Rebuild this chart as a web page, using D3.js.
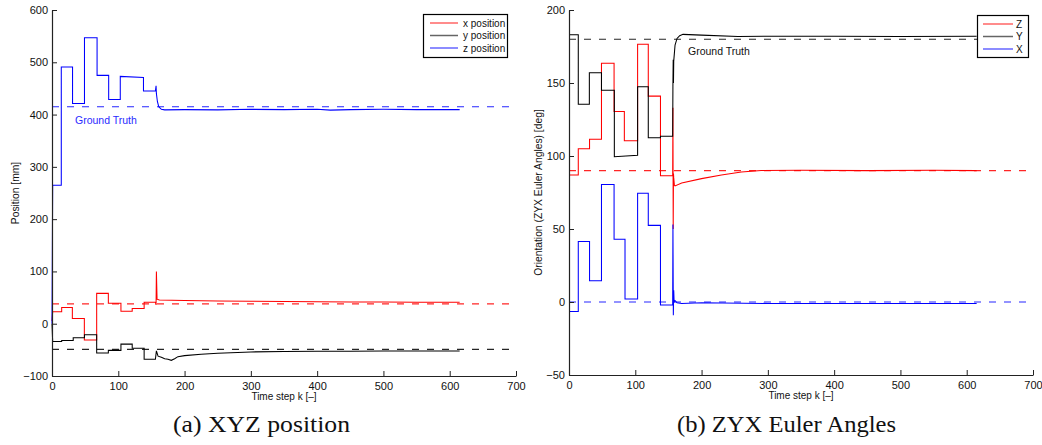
<!DOCTYPE html>
<html>
<head>
<meta charset="utf-8">
<script src="https://cdn.jsdelivr.net/npm/d3@7"></script>
<style>
  html, body { margin: 0; padding: 0; background: #fff; }
  svg { display: block; }
  .sans { font-family: "Liberation Sans", Arial, Helvetica, sans-serif; }
  .serif { font-family: "Liberation Serif", "DejaVu Serif", serif; }
</style>
</head>
<body>
<svg id="chart" width="1042" height="445"></svg>
<script>
// ---------- DATA ----------
const xTicks = [0, 100, 200, 300, 400, 500, 600, 700];
const posTicks = [-100, 0, 100, 200, 300, 400, 500, 600];
const angTicks = [-50, 0, 50, 100, 150, 200];

// (a) XYZ position : [time step k, value mm]
const xPosition = [[0,5],[1,23],[14.6,23],[14.6,31],[30.7,31],[30.7,10],[48.8,10],[48.8,-31],[67.4,-31],[67.4,58],[85,58],[85,39],[104,39],[104,24],[121,24],[121,29],[139,29],[139,41],[156,41],[157,36],[157.5,100],[158.5,47],[162,45.5],[200,44.5],[250,43.5],[300,43],[350,42.5],[400,42],[450,41.5],[500,41.5],[550,41],[615,41]];
const yPosition = [[0,0],[1,-34],[14.6,-34],[14.6,-32],[32,-32],[32,-27],[49,-27],[49,-21],[67.4,-21],[67.4,-56],[85,-56],[85,-51],[104,-51],[104,-39],[121,-39],[121,-47],[139,-47],[139,-68],[156,-68],[157.5,-52],[160,-62],[165,-64],[170,-67],[175,-68],[180,-70],[185,-67],[190,-63],[200,-61],[225,-58.5],[250,-56.5],[300,-54],[350,-53],[400,-52.5],[450,-52.5],[500,-52],[550,-52],[615,-52]];
const zPosition = [[0,0],[1,265],[14,265],[14,491],[31,491],[31,421],[49,421],[49,547],[68,547],[68,475],[85.5,475],[85.5,429],[103,429],[103,473],[138,471],[138,445],[156,445],[157,455],[157.5,440],[159,425],[161,415],[165,410],[170,409],[200,409.5],[250,409],[300,410],[350,409.5],[400,410],[420,408.5],[450,409.5],[500,410],[550,409.5],[615,409.5]];
const posTruth = { x: 38, y: -49, z: 415 };

// (b) ZYX Euler angles : [time step k, value deg]
const zAngle = [[0,87],[14,87],[14,105],[31,105],[31,111.5],[49,111.5],[49,163.5],[68,163.5],[68,130.5],[83.5,130.5],[83.5,110.5],[103.5,110.5],[103.5,176.5],[119.6,176.5],[119.6,141],[138,141],[138,86.5],[156.4,86.5],[156.8,133],[157.2,50],[157.6,88],[158,85],[159,80],[160,79.5],[170,81.5],[200,84.5],[230,87],[260,89],[290,90],[350,90.3],[450,90],[550,90.2],[615,90]];
const yAngle = [[0,183],[14,183],[14,135.5],[30.7,135.5],[30.7,157],[49,157],[49,145],[68.4,145],[68.4,99.5],[103.5,100.5],[103.5,147.5],[119.6,147.5],[119.6,112.5],[138,112.5],[138,113.5],[156.4,113.5],[156.8,150],[157.2,166],[157.6,150],[158,165],[160,176],[163,180.5],[167,182.4],[172,183.3],[200,182.8],[255,181.8],[300,182],[400,182],[500,181.8],[615,182]];
const xAngle = [[0,-6.5],[14,-6.5],[14,41.5],[31,41.5],[31,14.5],[49,14.5],[49,80.5],[68,80.5],[68,43],[84.5,43],[84.5,2],[103.5,2],[103.5,74.5],[119.6,74.5],[119.6,52.5],[138,52.5],[138,-2],[156.4,-2],[156.8,53],[157.4,-9],[158,8],[158.6,0],[160,1],[163,-0.5],[170,-1],[200,-0.5],[300,-1],[400,-1],[500,-1],[615,-1]];
const angTruth = { z: 90, y: 180, x: 0 };

const posLegend = ["x position", "y position", "z position"];
const angLegend = ["Z", "Y", "X"];
const colors = ["#ff0000", "#000000", "#0000ff"];

// ---------- DRAW ----------
const svg = d3.select("#chart");
svg.append("rect").attr("width", 1042).attr("height", 445).attr("fill", "#fff");

function panel(opt) {
  const g = svg.append("g").attr("class", "sans");
  const x = d3.scaleLinear().domain([0, 700]).range([opt.left, opt.right]);
  const y = d3.scaleLinear().domain(opt.yDomain).range([opt.bottom, opt.top]);

  const line = d3.line().x(d => x(d[0])).y(d => y(d[1]));

  // data lines
  opt.series.forEach((s, i) => {
    g.append("path").datum(s).attr("d", line)
      .attr("fill", "none").attr("stroke", colors[i]).attr("stroke-width", 1.05)
      .attr("stroke-linejoin", "miter");
  });
  // ground truth dashed
  opt.truth.forEach((t, i) => {
    g.append("line")
      .attr("x1", x(0)).attr("x2", x(700)).attr("y1", y(t)).attr("y2", y(t))
      .attr("stroke", colors[i]).attr("stroke-width", 1.1)
      .attr("stroke-dasharray", "7,8").attr("opacity", 0.85);
  });

  // axes
  const xa = g.append("g").attr("transform", `translate(0,${opt.bottom})`)
    .call(d3.axisBottom(x).tickValues(xTicks).tickSize(-5).tickSizeOuter(0).tickPadding(6)
      .tickFormat(d3.format("d")));
  const ya = g.append("g").attr("transform", `translate(${opt.left},0)`)
    .call(d3.axisLeft(y).tickValues(opt.yTicks).tickSize(-5).tickSizeOuter(0).tickPadding(4)
      .tickFormat(d => d < 0 ? "\u2212" + Math.abs(d) : String(d)));
  [xa, ya].forEach(a => {
    a.attr("font-family", null);
    a.select(".domain").attr("stroke", "#222").attr("stroke-width", 1.2);
    a.selectAll(".tick line").attr("stroke", "#222").attr("stroke-width", 1);
    a.selectAll("text").attr("font-size", 11).attr("fill", "#111");
  });

  // axis labels
  g.append("text").attr("x", (opt.left + opt.right) / 2).attr("y", opt.bottom + 24)
    .attr("text-anchor", "middle").attr("font-size", 10).attr("fill", "#111")
    .text("Time step k [\u2013]");
  g.append("text")
    .attr("transform", `translate(${opt.yLabelX},${(opt.top + opt.bottom) / 2}) rotate(-90)`)
    .attr("text-anchor", "middle").attr("font-size", 10.3).attr("fill", "#111")
    .text(opt.yLabel);

  // ground truth text
  g.append("text").attr("x", opt.gtX).attr("y", opt.gtY)
    .attr("font-size", 10.5).attr("fill", opt.gtColor).text("Ground Truth");

  // legend
  const lg = g.append("g");
  lg.append("rect").attr("x", opt.leg.x0 + 0.5).attr("y", opt.leg.y0 + 0.5)
    .attr("width", opt.leg.x1 - opt.leg.x0).attr("height", opt.leg.y1 - opt.leg.y0)
    .attr("fill", "#fff").attr("stroke", "#000").attr("stroke-width", 1.2);
  opt.legend.forEach((name, i) => {
    const yy = opt.leg.y0 + 9 + i * 12.5;
    lg.append("line").attr("x1", opt.leg.lx0).attr("x2", opt.leg.lx1)
      .attr("y1", yy).attr("y2", yy).attr("stroke", colors[i]).attr("stroke-width", 1.5)
      .attr("opacity", 0.6);
    lg.append("text").attr("x", opt.leg.tx).attr("y", yy + 3.5)
      .attr("font-size", 10).attr("fill", "#111").text(name);
  });

  // caption
  svg.append("text").attr("class", "serif").attr("x", opt.capX).attr("y", 431.5)
    .attr("font-size", 23).attr("fill", "#111")
    .attr("textLength", opt.capW).attr("lengthAdjust", "spacingAndGlyphs")
    .text(opt.caption);
}

panel({
  left: 52, right: 516, top: 10, bottom: 376,
  yDomain: [-100, 600], yTicks: posTicks,
  series: [xPosition, yPosition, zPosition],
  truth: [posTruth.x, posTruth.y, posTruth.z],
  yLabel: "Position [mm]", yLabelX: 19,
  gtX: 75, gtY: 124, gtColor: "#2a2aff",
  legend: posLegend,
  leg: { x0: 423, x1: 507, y0: 14, y1: 57, lx0: 430, lx1: 458, tx: 463 },
  caption: "(a) XYZ position", capX: 173, capW: 177
});

panel({
  left: 569, right: 1033, top: 10, bottom: 375,
  yDomain: [-50, 200], yTicks: angTicks,
  series: [zAngle, yAngle, xAngle],
  truth: [angTruth.z, angTruth.y, angTruth.x],
  yLabel: "Orientation (ZYX Euler Angles) [deg]", yLabelX: 542,
  gtX: 688, gtY: 55, gtColor: "#111",
  legend: angLegend,
  leg: { x0: 977, x1: 1028, y0: 15, y1: 57, lx0: 983, lx1: 1013, tx: 1016 },
  caption: "(b) ZYX Euler Angles", capX: 677, capW: 219
});
</script>
</body>
</html>
